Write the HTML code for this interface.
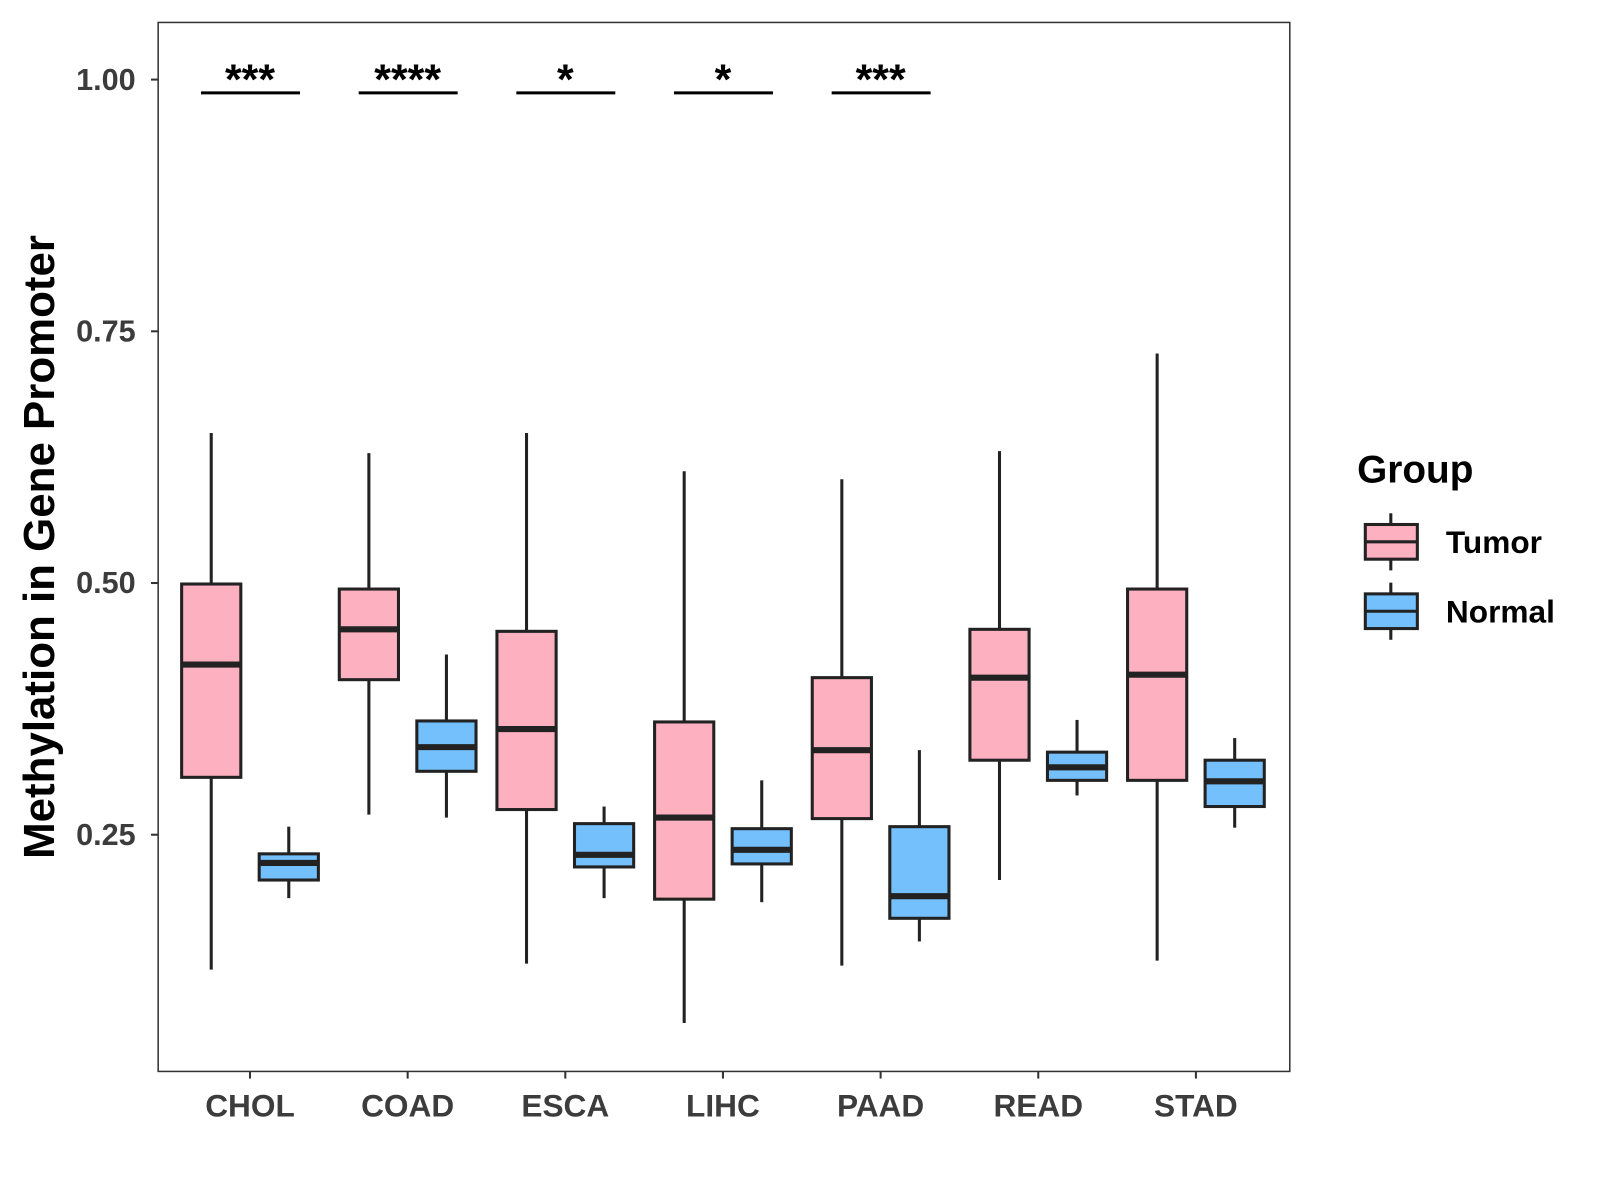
<!DOCTYPE html>
<html><head><meta charset="utf-8"><style>html,body{margin:0;padding:0;background:#fff}svg{display:block}</style></head>
<body>
<svg id="chart" width="1600" height="1200" viewBox="0 0 1568 1176" xmlns="http://www.w3.org/2000/svg" font-family="Liberation Sans, Arial, sans-serif"></svg>
<script>
const categories = ["CHOL","COAD","ESCA","LIHC","PAAD","READ","STAD"];
// [lowWhisker, q1, median, q3, highWhisker]
const tumorStats = [[0.116,0.307,0.419,0.499,0.649],[0.270,0.404,0.454,0.494,0.629],[0.122,0.275,0.355,0.452,0.649],[0.063,0.186,0.267,0.362,0.611],[0.120,0.266,0.334,0.406,0.603],[0.205,0.324,0.406,0.454,0.631],[0.125,0.304,0.409,0.494,0.728]];
const normalStats = [[0.187,0.205,0.222,0.231,0.258],[0.267,0.313,0.337,0.363,0.429],[0.187,0.218,0.230,0.261,0.278],[0.183,0.221,0.235,0.256,0.304],[0.144,0.167,0.189,0.258,0.334],[0.289,0.304,0.317,0.332,0.364],[0.257,0.278,0.303,0.324,0.346]];
const signif = ["***","****","*","*","***","",""];
const yTicks = [0.25,0.50,0.75,1.00];
const yTickLabels = ["0.25","0.50","0.75","1.00"];

const svg = document.getElementById('chart');
const NS = 'http://www.w3.org/2000/svg';
const P = {l:155,t:22,r:1264,b:1050};
const y = v => 78 + (1 - v) * 986.7;
const x = i => 245 + i * 154.5;
function mk(tag, attrs, parent){const e=document.createElementNS(NS,tag);for(const k in attrs)e.setAttribute(k,attrs[k]);(parent||svg).appendChild(e);return e;}

const frame = mk('rect',{x:P.l,y:P.t,width:P.r-P.l,height:P.b-P.t,fill:'none',stroke:'#333',"stroke-width":1.5});



yTicks.forEach((v,i)=>{
  const t = mk('line',{x1:P.l-7,x2:P.l,y1:y(v),y2:y(v),stroke:'#333',"stroke-width":2});
  
  
  const l = mk('text',{x:P.l-22,y:y(v)+10,"text-anchor":'end',"font-size":30,"font-weight":'bold',fill:'#3c3c3c'});
  l.textContent = yTickLabels[i];
  
  
});

function box(cx, s, fill){
  const g = mk('g',{});
  const hw = 29;
  mk('line',{x1:cx,x2:cx,y1:y(s[4]),y2:y(s[3]),stroke:'#222',"stroke-width":3},g);
  mk('line',{x1:cx,x2:cx,y1:y(s[1]),y2:y(s[0]),stroke:'#222',"stroke-width":3},g);
  mk('rect',{x:cx-hw,y:y(s[3]),width:2*hw,height:y(s[1])-y(s[3]),fill:fill,stroke:'#222',"stroke-width":3},g);
  mk('line',{x1:cx-hw,x2:cx+hw,y1:y(s[2]),y2:y(s[2]),stroke:'#222',"stroke-width":6},g);
  return g;
}

categories.forEach((c,i)=>{
  const gt = box(x(i)-38, tumorStats[i], '#FDB0C0');
  
  
  const gn = box(x(i)+38, normalStats[i], '#74C0FC');
  
  
  const t = mk('line',{x1:x(i),x2:x(i),y1:P.b,y2:P.b+7,stroke:'#333',"stroke-width":2});
  
  
  const l = mk('text',{x:x(i),y:1094,"text-anchor":'middle',"font-size":31,"font-weight":'bold',fill:'#3c3c3c'});
  l.textContent = c;
  
  
  if(signif[i]){
    const b = mk('line',{x1:x(i)-48,x2:x(i)+49,y1:91,y2:91,stroke:'#000',"stroke-width":3});
    
    
    const s = mk('text',{x:x(i),y:92,"text-anchor":'middle',"font-size":42,"font-weight":'bold',fill:'#000'});
    s.textContent = signif[i];
    
    
  }
});

const yt = mk('text',{x:0,y:0,transform:'translate(53,536) rotate(-90)',"text-anchor":'middle',"font-size":43,"font-weight":'bold',fill:'#000'});
yt.textContent = 'Methylation in Gene Promoter';



const lt = mk('text',{x:1330,y:473,"font-size":38,"font-weight":'bold',fill:'#000'});
lt.textContent = 'Group';


[['Tumor','#FDB0C0',531],['Normal','#74C0FC',599]].forEach(([n,f,cy])=>{
  const g = mk('g',{});
  
  
  mk('line',{x1:1363,x2:1363,y1:cy-28,y2:cy+28,stroke:'#222',"stroke-width":3},g);
  mk('rect',{x:1338,y:cy-17,width:51,height:34,fill:f,stroke:'#222',"stroke-width":3},g);
  mk('line',{x1:1338,x2:1389,y1:cy,y2:cy,stroke:'#222',"stroke-width":3},g);
  const t = mk('text',{x:1417,y:cy+11,"font-size":31,"font-weight":'bold',fill:'#000'},g);
  t.textContent = n;
});
</script>
</body></html>
